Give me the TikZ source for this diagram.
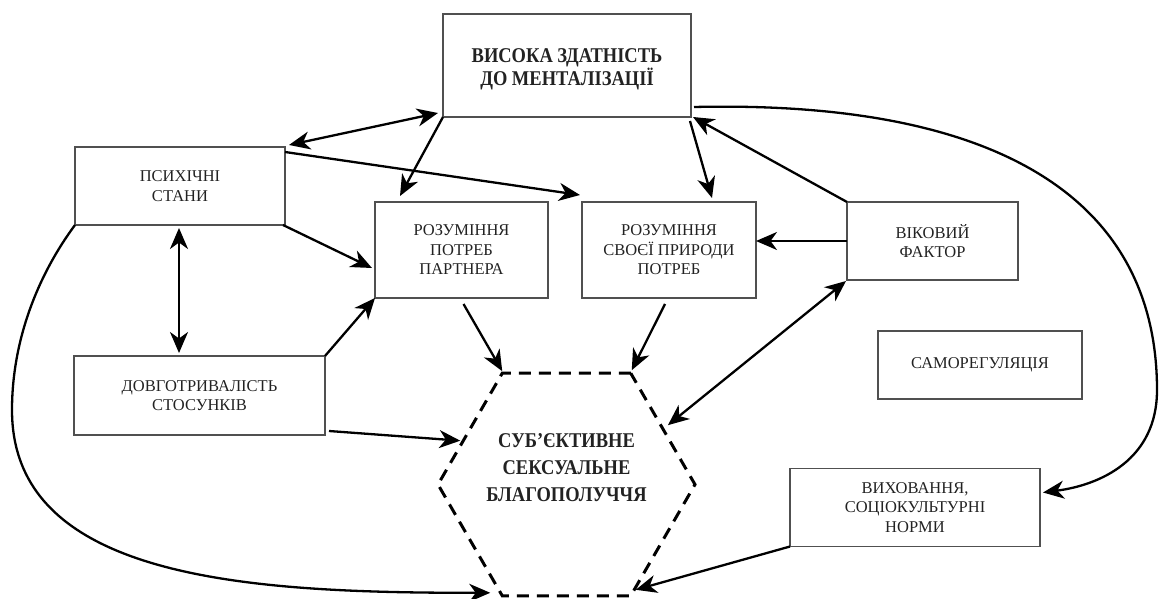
\documentclass[tikz,border=0pt]{standalone}
\usepackage{fontspec}
\setmainfont{Liberation Serif}
\newfontfamily\condserif[FakeStretch=0.88]{Liberation Serif}
\usetikzlibrary{arrows.meta,shapes.geometric,calc}
\definecolor{boxgray}{HTML}{505050}
\definecolor{textgray}{HTML}{222222}
\begin{document}
\begin{tikzpicture}[x=1pt,y=-1pt,
  >={Stealth[length=21pt,width=18pt,inset=6.5pt]},
  box/.style={draw=boxgray, line width=1.3pt, rectangle, inner sep=0pt, outer sep=0pt,
    align=center, text=textgray, font=\fontsize{16.5}{19.5}\selectfont},
  boldtext/.style={align=center, text=textgray, inner sep=0pt,
    font=\condserif\bfseries\fontsize{21}{#1}\selectfont},
  conn/.style={line width=2.3pt, draw=black},
  hexa/.style={regular polygon, regular polygon sides=6, draw=black, line width=3pt,
    dash pattern=on 12pt off 8pt, inner sep=0pt, outer sep=0pt, minimum size=257pt}
]
\useasboundingbox (0,0) rectangle (1159,599);

% nodes
\node[box, minimum width=248pt, minimum height=103pt] (top) at (567,65.5) {};
\node[boldtext=20.5] (toptext) at (567,69) {ВИСОКА ЗДАТНІСТЬ\\ДО МЕНТАЛІЗАЦІЇ};
\node[box, minimum width=210pt, minimum height=78pt] (psy) at (180,186) {ПСИХІЧНІ\\СТАНИ};
\node[box, minimum width=173pt, minimum height=96pt] (part) at (461.5,250) {РОЗУМІННЯ\\ПОТРЕБ\\ПАРТНЕРА};
\node[box, minimum width=174pt, minimum height=96pt] (svo) at (669,250) {РОЗУМІННЯ\\СВОЄЇ ПРИРОДИ\\ПОТРЕБ};
\node[box, minimum width=171pt, minimum height=78pt] (vik) at (932.5,241) {ВІКОВИЙ\\ФАКТОР};
\node[box, minimum width=204pt, minimum height=68pt] (samo) at (980,365) {САМОРЕГУЛЯЦІЯ};
\node[box, minimum width=251pt, minimum height=79pt] (dovh) at (199.5,395.5) {ДОВГОТРИВАЛІСТЬ\\СТОСУНКІВ};
\node[box, minimum width=250pt, minimum height=78pt] (vykh) at (915,507.5) {ВИХОВАННЯ,\\СОЦІОКУЛЬТУРНІ\\НОРМИ};
\node[hexa] (hex) at (566.5,484.5) {};
\node[boldtext=27] (hext) at (566.5,468) {СУБ’ЄКТИВНЕ\\СЕКСУАЛЬНЕ\\БЛАГОПОЛУЧЧЯ};

% connectors
\draw[conn,<->] ($(psy.north east)+(4,-2)$) -- ($(top.south west)+(-5,-4)$);
\draw[conn,->] (top.south west) -- ($(part.north west)+(25,-6)$);
\draw[conn,->] ($(top.south east)+(-1,4)$) -- ($(svo.north west)+(130,-4)$);
\draw[conn,->] (vik.north west) -- ($(top.south east)+(2,0)$);
\draw[conn,->] ($(top.south east)+(3,-10)$) .. controls (1000,100) and (1157,200) .. (1157,390)
  .. controls (1157,460) and (1100,485) .. ($(vykh.east)+(3,-15)$);
\draw[conn,->] ($(psy.north east)+(0,5)$) -- ($(svo.north west)+(-2,-7)$);
\draw[conn,->] ($(psy.south east)+(-2,0)$) -- ($(part.west)+(-3,18)$);
\draw[conn,<->] ($(psy.south)+(-1,3)$) -- ($(psy.south |- dovh.north)+(-1,-3)$);
\draw[conn,->] (dovh.north east) -- (part.south west);
\draw[conn,->] ($(dovh.south east)+(4,-4)$) -- ($(hex.157)+(-3,0)$);
\draw[conn,->] (psy.south west) .. controls (38,275) and (12,340) .. (12,410)
  .. controls (12,580) and (250,593) .. ($(hex.-120)+(-12,-3)$);
\draw[conn,->] ($(part.south)+(2,6)$) -- ($(hex.120)+(0,-2)$);
\draw[conn,->] ($(svo.south)+(-4,6)$) -- ($(hex.60)+(1,-3)$);
\draw[conn,->] (vik.west) -- (vik.west -| svo.east);
\draw[conn,<->] ($(vik.south west)+(-1,1)$) -- ($(hex.31)+(6,-2)$);
\draw[conn,->] (vykh.south west) -- ($(hex.-60)+(5,-6)$);
\end{tikzpicture}
\end{document}
